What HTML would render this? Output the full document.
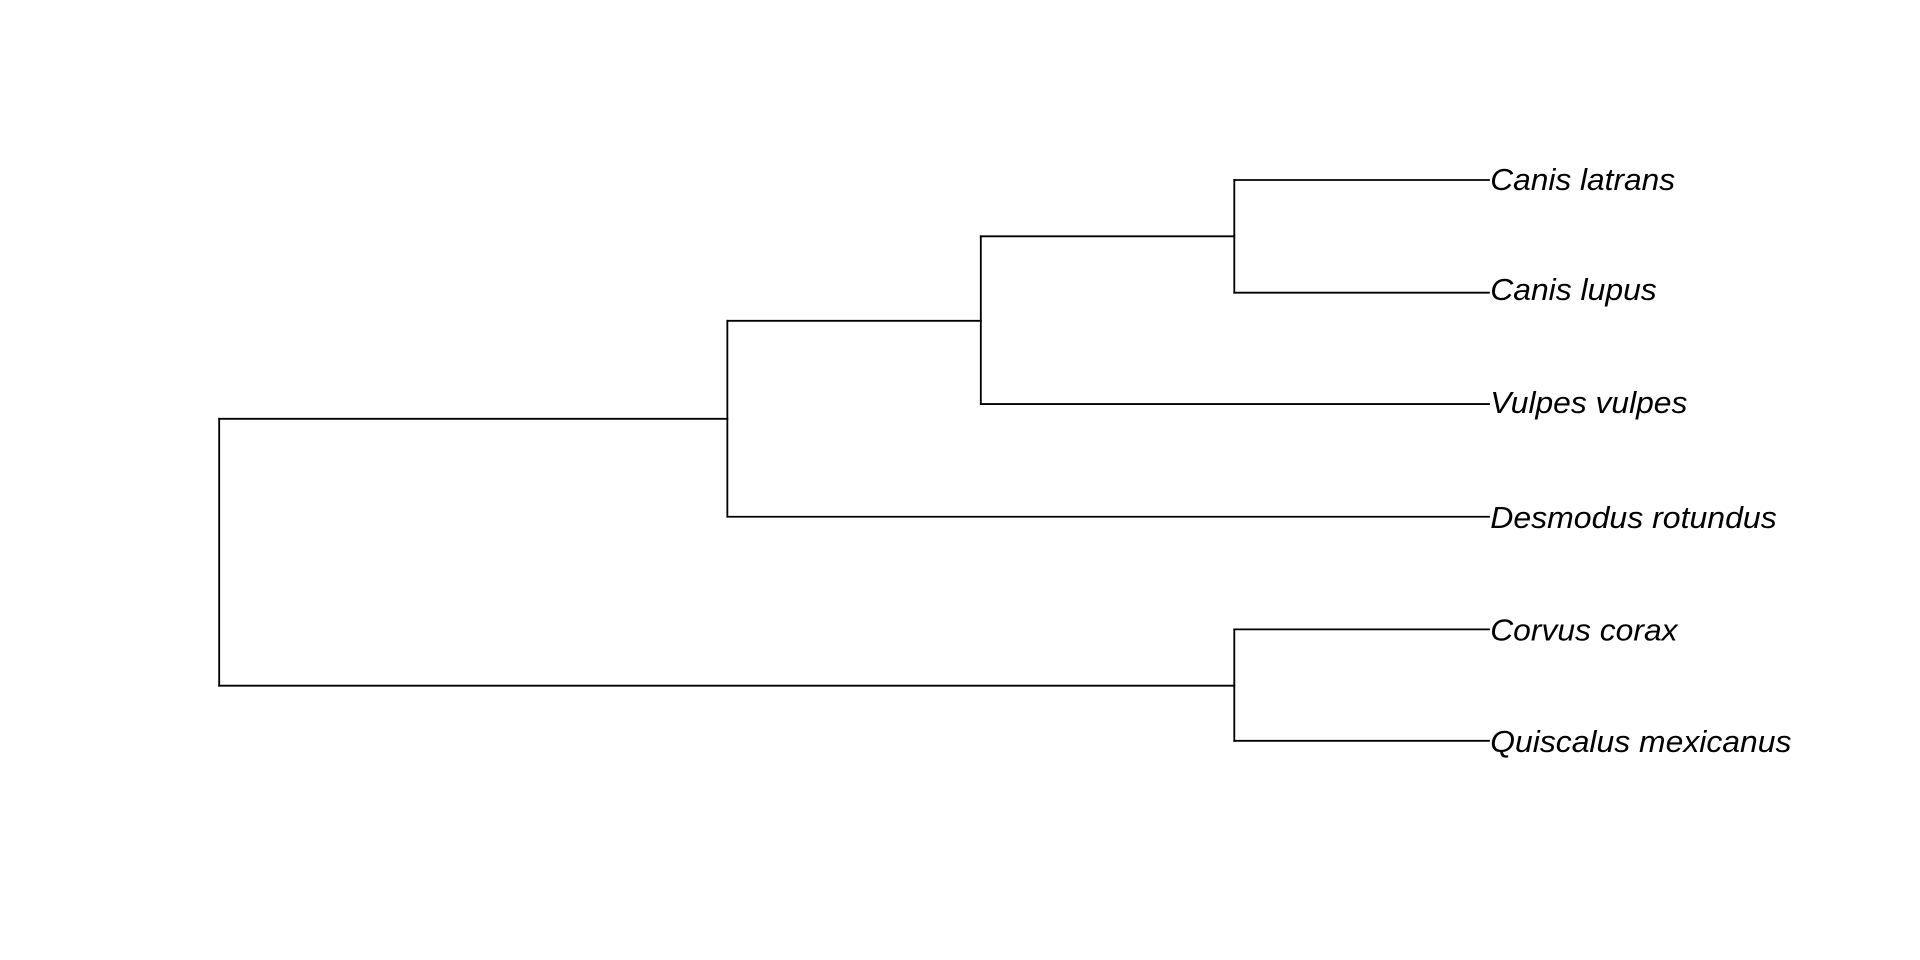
<!DOCTYPE html>
<html><head><meta charset="utf-8"><style>html,body{margin:0;padding:0;background:#fff;}svg{display:block}</style></head>
<body>
<svg width="1920" height="960" viewBox="0 0 1568 784" xmlns="http://www.w3.org/2000/svg">
<g stroke="#000" stroke-width="1.5" fill="none" stroke-linecap="square">
<path d="M179,342 V560"/>
<path d="M179,342 H594"/>
<path d="M179,560 H1008"/>
<path d="M594,262 V422"/>
<path d="M594,262 H801"/>
<path d="M594,422 H1216"/>
<path d="M801,193 V330"/>
<path d="M801,193 H1008"/>
<path d="M801,330 H1216"/>
<path d="M1008,147 V239"/>
<path d="M1008,147 H1216"/>
<path d="M1008,239 H1216"/>
<path d="M1008,514 V605"/>
<path d="M1008,514 H1216"/>
<path d="M1008,605 H1216"/>
</g>
<g font-family="Liberation Sans, sans-serif" font-style="italic" font-size="25" fill="#000" dominant-baseline="central" lengthAdjust="spacingAndGlyphs">
<text x="1217" y="147" textLength="151" lengthAdjust="spacingAndGlyphs">Canis latrans</text>
<text x="1217" y="237" textLength="136" lengthAdjust="spacingAndGlyphs">Canis lupus</text>
<text x="1217" y="329" textLength="161" lengthAdjust="spacingAndGlyphs">Vulpes vulpes</text>
<text x="1217" y="423" textLength="234" lengthAdjust="spacingAndGlyphs">Desmodus rotundus</text>
<text x="1217" y="515" textLength="153" lengthAdjust="spacingAndGlyphs">Corvus corax</text>
<text x="1217" y="606" textLength="246" lengthAdjust="spacingAndGlyphs">Quiscalus mexicanus</text>
</g>
</svg>
</body></html>
